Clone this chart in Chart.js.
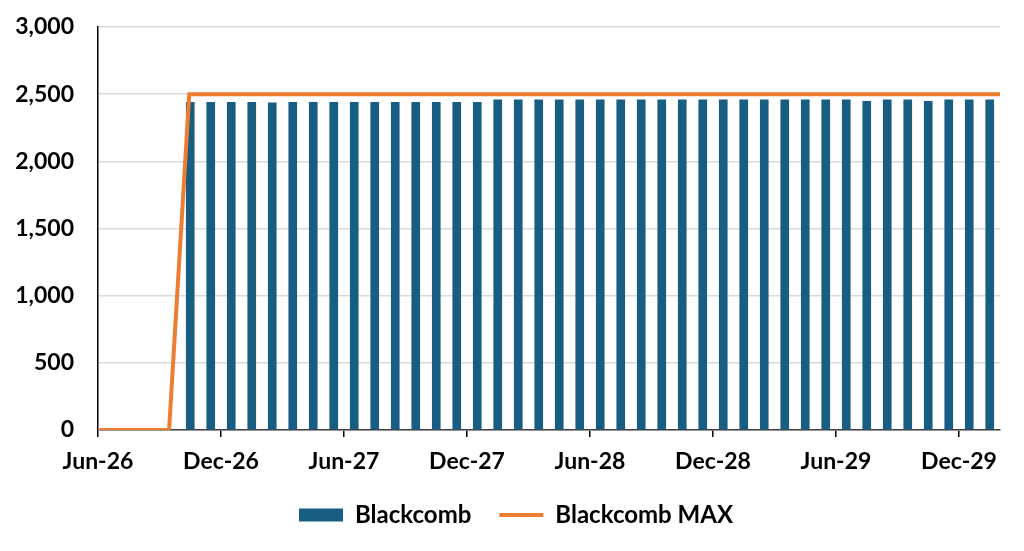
<!DOCTYPE html>
<html>
<head>
<meta charset="utf-8">
<script src="https://cdn.jsdelivr.net/npm/chart.js@4.4.1/dist/chart.umd.min.js"></script>
<style>
    html, body { margin: 0; padding: 0; background: #fff; }
    #wrap { width: 1024px; height: 551px; }
</style>
</head>
<body>
<div id="wrap"><canvas id="blackcombChart"></canvas></div>
<script>
// monthly volumes, one bar per month (plotted mid-month)
const barMonths = [
    'Oct-26', 'Nov-26', 'Dec-26', 'Jan-27', 'Feb-27', 'Mar-27', 'Apr-27', 'May-27',
    'Jun-27', 'Jul-27', 'Aug-27', 'Sep-27', 'Oct-27', 'Nov-27', 'Dec-27', 'Jan-28',
    'Feb-28', 'Mar-28', 'Apr-28', 'May-28', 'Jun-28', 'Jul-28', 'Aug-28', 'Sep-28',
    'Oct-28', 'Nov-28', 'Dec-28', 'Jan-29', 'Feb-29', 'Mar-29', 'Apr-29', 'May-29',
    'Jun-29', 'Jul-29', 'Aug-29', 'Sep-29', 'Oct-29', 'Nov-29', 'Dec-29', 'Jan-30'
];
const barValues = [
    2440, 2440, 2440, 2440, 2435, 2440, 2440, 2440,
    2440, 2440, 2440, 2440, 2440, 2440, 2440, 2458,
    2458, 2458, 2458, 2458, 2458, 2458, 2458, 2458,
    2458, 2458, 2458, 2458, 2458, 2458, 2458, 2458,
    2458, 2447, 2458, 2458, 2447, 2458, 2458, 2458
];

// capacity line
const maxDates = ['2026-06-01', '2026-09-15', '2026-10-15', '2030-02-01'];
const maxValues = [0, 0, 2500, 2500];

const xTickLabels = ['Jun-26', 'Dec-26', 'Jun-27', 'Dec-27', 'Jun-28', 'Dec-28', 'Jun-29', 'Dec-29'];
const yTickValues = [0, 500, 1000, 1500, 2000, 2500, 3000];

const MONTHS = ['Jan', 'Feb', 'Mar', 'Apr', 'May', 'Jun', 'Jul', 'Aug', 'Sep', 'Oct', 'Nov', 'Dec'];
const START_YEAR = 2026;
const START_MONTH = 5; // Jun

function monthIndex(label) {
    const parts = label.split('-');
    return (2000 + Number(parts[1]) - START_YEAR) * 12 + MONTHS.indexOf(parts[0]) - START_MONTH;
}

function dateIndex(iso) {
    const [y, m, d] = iso.split('-').map(Number);
    const days = new Date(y, m, 0).getDate();
    return (y - START_YEAR) * 12 + (m - 1 - START_MONTH) + (d - 1) / days;
}

function monthLabel(value) {
    const total = Math.round(value) + START_MONTH;
    return MONTHS[total % 12] + '-' + (START_YEAR - 2000 + Math.floor(total / 12));
}

const tickFont = { family: 'Lato', size: 23, weight: 'bold' };
const legendFont = { family: 'Lato', size: 24, weight: 'bold' };

// nudge the legend a bit right of the canvas centre, like the original
const legendShift = {
    id: 'legendShift',
    afterLayout: function(chart) {
        chart.legend.left += 12;
        chart.legend.right += 12;
    }
};

document.addEventListener('DOMContentLoaded', function() {
    const ctx = document.getElementById('blackcombChart').getContext('2d');

    new Chart(ctx, {
        data: {
            datasets: [{
                type: 'bar',
                label: 'Blackcomb',
                data: barMonths.map((m, i) => ({ x: monthIndex(m) + 0.5, y: barValues[i] })),
                backgroundColor: '#175E82',
                borderWidth: 0,
                barThickness: 8,
                order: 1
            }, {
                type: 'line',
                label: 'Blackcomb MAX',
                data: maxDates.map((d, i) => ({ x: dateIndex(d), y: maxValues[i] })),
                borderColor: '#ED7D31',
                backgroundColor: '#ED7D31',
                borderWidth: 4,
                pointRadius: 0,
                pointStyle: 'line',
                tension: 0,
                order: 0
            }]
        },
        plugins: [legendShift],
        options: {
            responsive: true,
            maintainAspectRatio: false,
            animation: false,
            layout: {
                padding: { left: 8, right: 24, top: 27, bottom: 14 }
            },
            plugins: {
                legend: {
                    position: 'bottom',
                    labels: {
                        font: legendFont,
                        color: '#000',
                        usePointStyle: true,
                        pointStyleWidth: 44,
                        boxHeight: 13,
                        padding: 28,
                        sort: (a, b) => a.datasetIndex - b.datasetIndex,
                        generateLabels: function(chart) {
                            const items = Chart.defaults.plugins.legend.labels.generateLabels(chart);
                            items.forEach(item => {
                                item.pointStyle = item.datasetIndex === 0 ? 'rect' : 'line';
                            });
                            return items;
                        }
                    }
                },
                tooltip: { enabled: false }
            },
            scales: {
                x: {
                    type: 'linear',
                    min: 0,
                    max: 44,
                    offset: false,
                    afterBuildTicks: function(scale) {
                        scale.ticks = xTickLabels.map(l => ({ value: monthIndex(l) }));
                    },
                    afterFit: function(scale) {
                        scale.height = 45;
                    },
                    ticks: {
                        callback: value => monthLabel(value),
                        font: tickFont,
                        color: '#000',
                        padding: 11,
                        maxRotation: 0,
                        autoSkip: false
                    },
                    grid: {
                        offset: false,
                        drawOnChartArea: false,
                        drawTicks: true,
                        tickLength: 7,
                        color: '#000',
                        lineWidth: 1.5
                    },
                    border: { color: '#404040', width: 1.5 }
                },
                y: {
                    min: 0,
                    max: 3000,
                    afterBuildTicks: function(scale) {
                        scale.ticks = yTickValues.map(v => ({ value: v }));
                    },
                    afterFit: function(scale) {
                        scale.width = 90;
                    },
                    ticks: {
                        callback: value => value.toLocaleString('en-US'),
                        font: tickFont,
                        color: '#000',
                        padding: 4
                    },
                    grid: {
                        color: '#d9d9d9',
                        lineWidth: 1.5,
                        drawTicks: true,
                        tickLength: 20,
                        tickColor: 'rgba(0,0,0,0)'
                    },
                    border: { color: '#000', width: 1.5 }
                }
            }
        }
    });
});
</script>
</body>
</html>
